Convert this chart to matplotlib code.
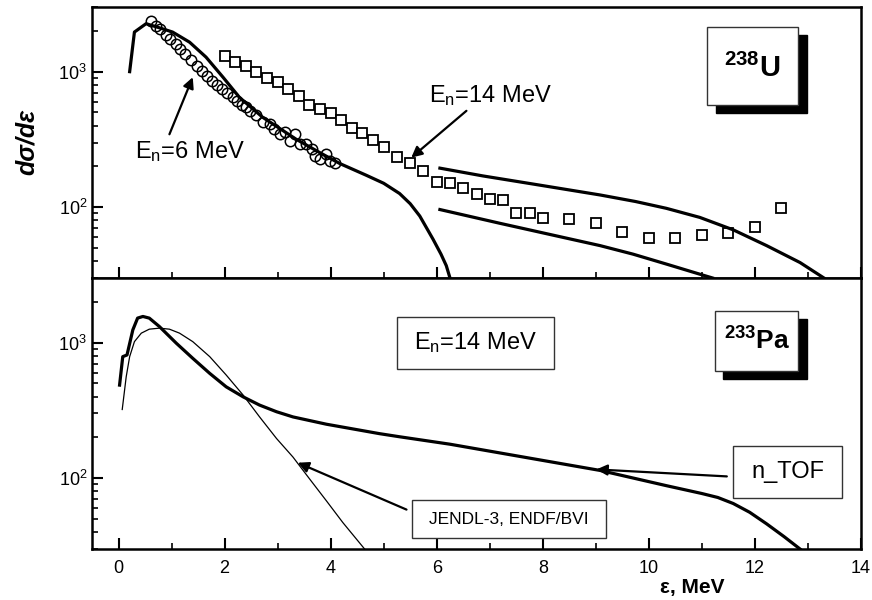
import numpy as np
import matplotlib.pyplot as plt
from matplotlib.patches import Rectangle
from matplotlib.ticker import MultipleLocator, NullFormatter

plt.rcParams['font.family'] = ['Liberation Sans', 'DejaVu Sans']
plt.rcParams['mathtext.fontset'] = 'custom'
plt.rcParams['mathtext.rm'] = 'Liberation Sans'
plt.rcParams['mathtext.it'] = 'Liberation Sans:italic'
plt.rcParams['mathtext.bf'] = 'Liberation Sans:bold'

# ---- 238U, En = 6 MeV: data (circles) and calculation (thick line)
u6_x = [0.62, 0.71, 0.79, 0.89, 0.98, 1.08, 1.16, 1.26, 1.37, 1.48, 1.58, 1.67,
        1.77, 1.85, 1.96, 2.04, 2.15, 2.23, 2.33, 2.41, 2.47, 2.60, 2.72, 2.85,
        2.94, 3.04, 3.13, 3.23, 3.32, 3.42, 3.54, 3.64, 3.70, 3.79, 3.92, 3.98, 4.08]
u6_y = [2360, 2190, 2070, 1880, 1750, 1590, 1470, 1350, 1210, 1110, 1010, 935,
        860, 800, 745, 690, 645, 605, 570, 545, 510, 480, 425, 410,
        380, 346, 356, 310, 346, 292, 290, 267, 240, 226, 245, 220, 213]
u6_calc_x = [0.21, 0.30, 0.52, 0.75, 1.02, 1.34, 1.65, 1.97, 2.28, 2.72, 3.35,
             3.80, 4.17, 4.67, 5.00, 5.30, 5.50, 5.68, 5.93, 6.08, 6.18, 6.25]
u6_calc_y = [1000, 1960, 2260, 2120, 1960, 1650, 1280, 910, 646, 460, 317,
             252, 210, 172, 150, 126, 106, 86, 58, 45, 37, 30]

# ---- 238U, En = 14 MeV: data (squares) and two calculated curves
u14_x = [2.0, 2.2, 2.4, 2.6, 2.8, 3.0, 3.2, 3.4, 3.6, 3.8, 4.0, 4.2, 4.4, 4.6,
         4.8, 5.0, 5.25, 5.5, 5.75, 6.0, 6.25, 6.5, 6.75, 7.0, 7.25, 7.5, 7.75,
         8.0, 8.5, 9.0, 9.5, 10.0, 10.5, 11.0, 11.5, 12.0, 12.5]
u14_y = [1314, 1186, 1096, 990, 898, 834, 744, 664, 570, 529, 492, 439, 383, 350,
         314, 278, 236, 211, 185, 154, 150, 138, 126, 114, 113, 91, 90,
         83, 82, 76, 66, 59, 59, 62, 64, 71, 98]
u14_up_x = [6.06, 6.87, 7.82, 9.08, 9.75, 10.33, 10.96, 11.59, 12.22, 12.85, 13.3]
u14_up_y = [194, 170, 148, 123, 110, 98, 84, 68, 52, 39, 30]
u14_lo_x = [6.06, 7.19, 8.45, 9.08, 9.70, 10.33, 10.96, 11.2]
u14_lo_y = [96, 76, 59, 52, 45, 38, 32, 30]

# ---- 233Pa, En = 14 MeV
pa_tof_x = [0.02, 0.08, 0.16, 0.27, 0.36, 0.46, 0.58, 0.77, 1.09, 1.40, 1.72,
            2.03, 2.35, 2.66, 2.98, 3.29, 3.92, 4.55, 4.92, 5.30, 6.25, 7.82,
            9.08, 10.33, 11.0, 11.3, 11.59, 11.9, 12.22, 12.55, 12.85]
pa_tof_y = [486, 788, 811, 1242, 1517, 1560, 1517, 1315, 990, 766, 593,
            472, 398, 346, 309, 283, 250, 226, 213, 202, 178, 139,
            114, 88, 77, 72, 65, 56, 46, 37, 30]
pa_jendl_x = [0.07, 0.145, 0.21, 0.30, 0.43, 0.58, 0.77, 0.96, 1.15, 1.40,
              1.72, 2.03, 2.35, 2.66, 2.98, 3.29, 3.60, 3.92, 4.23, 4.64]
pa_jendl_y = [321, 560, 788, 1017, 1175, 1257, 1279, 1257, 1175, 1017,
              788, 577, 410, 283, 196, 143, 99, 68, 47, 30]

fig = plt.figure(figsize=(8.72, 6), dpi=100)
ax1 = fig.add_axes([0.1055, 0.5367, 0.8819, 0.4516])
ax2 = fig.add_axes([0.1055, 0.085, 0.8819, 0.4517], sharex=ax1)

for ax in (ax1, ax2):
    ax.set_yscale('log')
    ax.set_ylim(30, 3000)
    ax.set_xlim(-0.5, 14)
    ax.xaxis.set_major_locator(MultipleLocator(2))
    ax.xaxis.set_minor_locator(MultipleLocator(1))
    ax.yaxis.set_minor_formatter(NullFormatter())
    ax.tick_params(which='both', direction='in', top=False, right=False,
                   labelsize=13)
    ax.tick_params(which='major', length=8, width=1.5)
    ax.tick_params(which='minor', length=4, width=1.2)
    for s in ax.spines.values():
        s.set_linewidth(1.8)
ax1.tick_params(labelbottom=False)
ax2.tick_params(axis='x', pad=8)

# top panel
ax1.plot(u6_x, u6_y, 'o', ms=7.5, mfc='none', mec='black', mew=1.1)
ax1.plot(u6_calc_x, u6_calc_y, color='black', lw=2.3)
ax1.plot(u14_x, u14_y, 's', ms=7, mfc='white', mec='black', mew=1.3)
ax1.plot(u14_up_x, u14_up_y, color='black', lw=2.3)
ax1.plot(u14_lo_x, u14_lo_y, color='black', lw=2.3)

arrow = dict(arrowstyle='-|>', color='black', lw=1.6, mutation_scale=16,
             shrinkA=0, shrinkB=0)
ax1.annotate('', xy=(1.40, 910), xytext=(0.96, 345), arrowprops=arrow)
ax1.text(1.34, 259, r'E$_\mathregular{n}$=6 MeV', fontsize=17,
         ha='center', va='center')
ax1.annotate('', xy=(5.52, 232), xytext=(6.56, 514), arrowprops=arrow)
ax1.text(7.02, 661, r'E$_\mathregular{n}$=14 MeV', fontsize=17,
         ha='center', va='center')

# bottom panel
ax2.plot(pa_jendl_x, pa_jendl_y, color='black', lw=0.9)
ax2.plot(pa_tof_x, pa_tof_y, color='black', lw=2.3)
ax2.annotate('', xy=(3.38, 130), xytext=(5.43, 58.6), arrowprops=arrow)
ax2.annotate('', xy=(9.01, 116), xytext=(11.47, 103), arrowprops=arrow)


def box(ax, x0, y0, x1, y1, shadow=None):
    if shadow:
        ax.add_patch(Rectangle((x0 + shadow[0], y0 + shadow[1]), x1 - x0, y1 - y0,
                               transform=ax.transAxes, facecolor='black',
                               edgecolor='black', zorder=4))
    ax.add_patch(Rectangle((x0, y0), x1 - x0, y1 - y0, transform=ax.transAxes,
                           facecolor='white', edgecolor='#333333', lw=1.0, zorder=5))
    return (x0 + x1) / 2, (y0 + y1) / 2


cx, cy = box(ax1, 0.7993, 0.6384, 0.9177, 0.9251, shadow=(0.0117, -0.0295))
ax1.text(cx, cy - 0.01, r'$\mathbf{^{238}U}$', fontsize=21, ha='center',
         va='center', transform=ax1.transAxes, zorder=6)

cx, cy = box(ax2, 0.8101, 0.658, 0.9185, 0.8793, shadow=(0.011, -0.031))
ax2.text(cx, cy, r'$\mathbf{^{233}Pa}$', fontsize=19, ha='center',
         va='center', transform=ax2.transAxes, zorder=6)

cx, cy = box(ax2, 0.3962, 0.6642, 0.6012, 0.8572)
ax2.text(cx, cy, r'E$_\mathregular{n}$=14 MeV', fontsize=17, ha='center',
         va='center', transform=ax2.transAxes, zorder=6)

cx, cy = box(ax2, 0.8332, 0.1871, 0.9757, 0.3812)
ax2.text(cx, cy, 'n_TOF', fontsize=17, ha='center', va='center',
         transform=ax2.transAxes, zorder=6)

cx, cy = box(ax2, 0.4157, 0.0395, 0.6680, 0.1808)
ax2.text(cx, cy, 'JENDL-3, ENDF/BVI', fontsize=12.5, ha='center', va='center',
         transform=ax2.transAxes, zorder=6)

fig.text(27 / 872, 1 - 142 / 600, 'dσ/dε', rotation=90, fontsize=18,
         fontweight='bold', fontstyle='italic', ha='center', va='center')
fig.text(692 / 872, 1 - 587 / 600, 'ε, MeV', fontsize=15, fontweight='bold',
         ha='center', va='center')

fig.savefig('out.png', dpi=100)
